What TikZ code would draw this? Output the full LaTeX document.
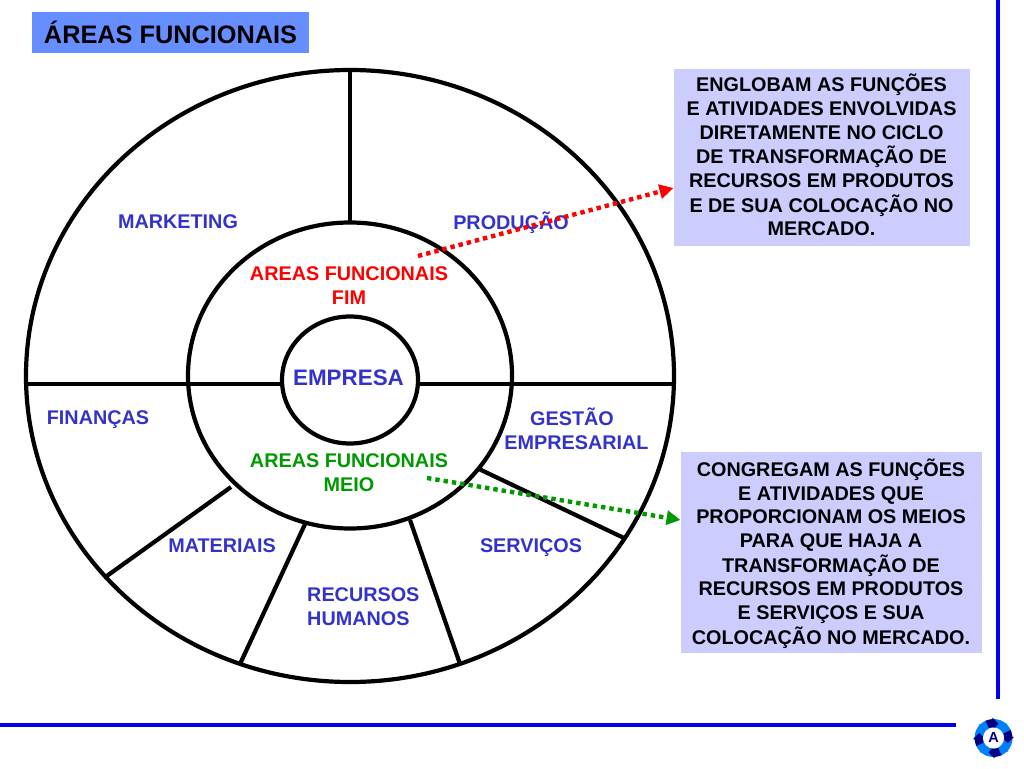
\documentclass[tikz,border=0pt]{standalone}
\usepackage{fontspec}
\setmainfont{Liberation Sans}
\usetikzlibrary{arrows.meta,shapes.geometric}
\definecolor{lav}{RGB}{204,204,255}
\definecolor{hblue}{RGB}{51,51,204}
\definecolor{rulec}{RGB}{0,0,238}
\definecolor{titlebg}{RGB}{102,142,255}
\definecolor{gr}{RGB}{0,153,0}
\definecolor{dk}{RGB}{0,0,128}
\definecolor{lt}{RGB}{0,128,255}
\renewcommand{\arraystretch}{0.985}
\newcommand{\notetext}[2]{\raisebox{#1}[\height][\depth]{\begin{tabular}{@{}c@{}}#2\end{tabular}}}
\tikzset{
  x=1pt,y=-1pt,
  ring/.style={draw=black,line width=4.2pt,ellipse,inner sep=0pt,outer sep=0pt},
  spoke/.style={draw=black,line width=4.2pt,line cap=butt},
  area/.style={font=\fontsize{19.8}{24}\selectfont\bfseries,text=hblue,align=center,inner sep=0pt},
  note/.style={fill=lav,font=\fontsize{19.8}{24}\selectfont\bfseries,align=center,inner sep=0pt,outer sep=0pt},
  fimlink/.style={line width=4.4pt,dash pattern=on 4.4pt off 4pt,-{Triangle[length=14pt,width=14pt,sep=0pt]}},
  rulebar/.style={rulec,line width=4pt},
}
\begin{document}
\begin{tikzpicture}
\useasboundingbox (0,0) rectangle (1024,768);
% frame rules
\coordinate (rv1) at (998,0); \coordinate (rv2) at (998,699);
\coordinate (rh1) at (0,725); \coordinate (rh2) at (956,725);
\draw[rulebar] (rv1) -- (rv2);
\draw[rulebar] (rh1) -- (rh2);
% title
\node[fill=titlebg,minimum width=277pt,minimum height=41pt,inner sep=0pt,font=\fontsize{25.3}{28}\selectfont\bfseries] (title) at (170.5,32.5) {ÁREAS FUNCIONAIS};
% rings
\node[ring,minimum width=648pt,minimum height=612pt] (outer) at (350,376) {};
\node[ring,minimum width=324pt,minimum height=306pt] (mid) at (350,375.5) {};
\node[ring,minimum width=136pt,minimum height=127pt] (core) at (350,380) {};
% spokes
\coordinate (s1a) at (350,70); \coordinate (s1b) at (350,222);
\coordinate (s2a) at (26,384); \coordinate (s2b) at (282,384);
\coordinate (s3a) at (418,384); \coordinate (s3b) at (674,384);
\coordinate (s4a) at (231,487); \coordinate (s4b) at (104,578);
\coordinate (s5a) at (306,522); \coordinate (s5b) at (240,664);
\coordinate (s6a) at (410,520); \coordinate (s6b) at (460,664);
\coordinate (s7a) at (479,469); \coordinate (s7b) at (624,538);
\foreach \a/\b in {s1a/s1b,s2a/s2b,s3a/s3b,s4a/s4b,s5a/s5b,s6a/s6b,s7a/s7b}
  \draw[spoke] (\a) -- (\b);
% labels
\node[area] (mkt) at (178,222) {MARKETING};
\node[area] (prod) at (511,223) {PRODUÇÃO};
\node[area] (fin) at (98,420) {FINANÇAS};
\node[area] (gest) at (576.5,429) {GESTÃO\hspace*{9pt}\\EMPRESARIAL};
\node[area] (mat) at (222,546) {MATERIAIS};
\node[area] (serv) at (531,548) {SERVIÇOS};
\node[area,align=left,anchor=west] (rh) at (307,607) {RECURSOS\\HUMANOS};
\node[area,font=\fontsize{22.4}{24}\selectfont\bfseries] (emp) at (348.5,377.5) {EMPRESA};
\node[area,text=red] (fim) at (349,286) {AREAS FUNCIONAIS\\FIM};
\node[area,text=gr] (meio) at (349,473) {AREAS FUNCIONAIS\\MEIO};
% notes
\node[note,minimum width=296pt,minimum height=177pt] (n1) at (821.5,157.5) {\notetext{-1pt}{%
ENGLOBAM AS FUNÇÕES\\E ATIVIDADES ENVOLVIDAS\\DIRETAMENTE NO CICLO\\DE TRANSFORMAÇÃO DE\\RECURSOS EM PRODUTOS\\E DE SUA COLOCAÇÃO NO\\MERCADO.}};
\node[note,minimum width=301pt,minimum height=201pt] (n2) at (831,552.5) {\notetext{-2.5pt}{%
CONGREGAM AS FUNÇÕES\\E ATIVIDADES QUE\\PROPORCIONAM OS MEIOS\\PARA QUE HAJA A\\TRANSFORMAÇÃO DE\\RECURSOS EM PRODUTOS\\E SERVIÇOS E SUA\\COLOCAÇÃO NO MERCADO.}};
% connectors
\coordinate (l1) at (418,256);
\coordinate (l2) at (427,478);
\draw[fimlink,red] (l1) -- (n1.west |- 0,188);
\draw[fimlink,gr] (l2) -- (n2.west |- 0,520);
% logo
\begin{scope}[shift={(993.5,738)}]
  \fill[lt] (0,0) circle (19);
  \foreach \ang/\cc in {20/lt,65/dk,110/lt,155/dk,200/lt,245/dk,290/lt,335/dk}
    \fill[\cc] (\ang:11) -- (\ang:19) -- (\ang+22:19) -- (\ang+22:20.5) -- (\ang+45:15) -- (\ang+22:9) -- (\ang+22:11) -- cycle;
  \fill[white] (0,0) circle (10.5);
  \node[font=\fontsize{14.5}{14}\selectfont\bfseries,text=dk,inner sep=0pt] (logoA) at (0,0) {A};
\end{scope}
\end{tikzpicture}
\end{document}
